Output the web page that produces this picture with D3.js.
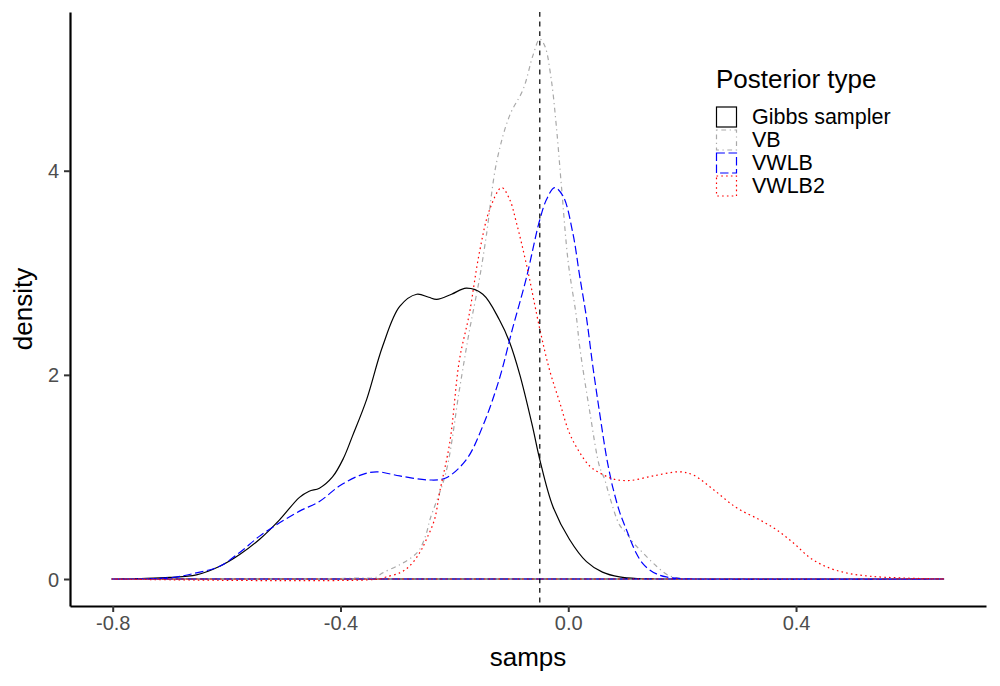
<!DOCTYPE html>
<html>
<head>
<meta charset="utf-8">
<script src="https://cdn.jsdelivr.net/npm/d3@7"></script>
<style>
  body { margin: 0; background: #fff; }
  text { font-family: "Liberation Sans", Arial, Helvetica, sans-serif; }
</style>
</head>
<body>
<svg id="chart" width="1000" height="686"></svg>
<script>
// density curves, [samps, density]
const gibbs = [
  [-0.802, 0], [-0.75, 0.005], [-0.70, 0.015], [-0.653, 0.04], [-0.612, 0.125],
  [-0.577, 0.24], [-0.542, 0.39], [-0.507, 0.58], [-0.472, 0.80], [-0.455, 0.86],
  [-0.437, 0.89], [-0.414, 1.00], [-0.395, 1.18], [-0.379, 1.40], [-0.354, 1.76],
  [-0.326, 2.28], [-0.296, 2.67], [-0.266, 2.79], [-0.245, 2.76], [-0.231, 2.74],
  [-0.205, 2.79], [-0.179, 2.85], [-0.150, 2.79], [-0.121, 2.54], [-0.103, 2.32],
  [-0.085, 2.00], [-0.063, 1.50], [-0.050, 1.17], [-0.027, 0.71], [0.002, 0.39],
  [0.032, 0.17], [0.060, 0.067], [0.090, 0.02], [0.125, 0.003], [0.16, 0], [0.66, 0]
];
const vb = [
  [-0.802, 0], [-0.45, 0], [-0.40, 0.005], [-0.36, 0.01], [-0.34, 0.012],
  [-0.326, 0.06], [-0.296, 0.14], [-0.273, 0.22], [-0.261, 0.29], [-0.249, 0.45],
  [-0.243, 0.58], [-0.215, 1.04], [-0.191, 1.86], [-0.174, 2.42], [-0.156, 2.94],
  [-0.144, 3.36], [-0.126, 4.08], [-0.103, 4.54], [-0.079, 4.80], [-0.062, 5.13],
  [-0.050, 5.29], [-0.041, 5.22], [-0.030, 4.90], [-0.021, 4.44], [-0.012, 3.85],
  [0.000, 3.10], [0.014, 2.58], [0.020, 2.28], [0.038, 1.63], [0.055, 1.10],
  [0.064, 0.975], [0.073, 0.80], [0.090, 0.53], [0.102, 0.45], [0.115, 0.35],
  [0.131, 0.257], [0.155, 0.125], [0.178, 0.03], [0.20, 0.005], [0.22, 0], [0.66, 0]
];
const vwlb = [
  [-0.802, 0], [-0.70, 0.012], [-0.653, 0.06], [-0.612, 0.125], [-0.577, 0.26],
  [-0.542, 0.42], [-0.507, 0.55], [-0.472, 0.665], [-0.437, 0.76], [-0.402, 0.91],
  [-0.366, 1.015], [-0.337, 1.05], [-0.296, 1.01], [-0.244, 0.97], [-0.215, 0.99],
  [-0.179, 1.17], [-0.150, 1.50], [-0.121, 1.96], [-0.098, 2.45], [-0.074, 2.94],
  [-0.050, 3.52], [-0.038, 3.72], [-0.024, 3.835], [-0.009, 3.75], [0.008, 3.39],
  [0.020, 2.97], [0.032, 2.56], [0.043, 2.09], [0.055, 1.63], [0.067, 1.20],
  [0.075, 0.975], [0.079, 0.88], [0.090, 0.66], [0.102, 0.485], [0.119, 0.257],
  [0.131, 0.15], [0.142, 0.093], [0.155, 0.05], [0.172, 0.02], [0.20, 0.003],
  [0.23, 0], [0.66, 0]
];
const vwlb2 = [
  [-0.802, 0], [-0.331, 0], [-0.32, 0.02], [-0.296, 0.06], [-0.279, 0.125],
  [-0.261, 0.257], [-0.249, 0.39], [-0.235, 0.58], [-0.226, 0.845], [-0.208, 1.34],
  [-0.191, 2.15], [-0.174, 2.59], [-0.156, 3.20], [-0.138, 3.62], [-0.117, 3.835],
  [-0.103, 3.72], [-0.091, 3.49], [-0.073, 3.07], [-0.050, 2.45], [-0.033, 2.05],
  [-0.015, 1.73], [0.002, 1.43], [0.020, 1.24], [0.038, 1.105], [0.055, 1.04],
  [0.079, 0.98], [0.108, 0.965], [0.149, 1.01], [0.195, 1.05], [0.219, 1.02],
  [0.254, 0.88], [0.295, 0.70], [0.336, 0.58], [0.365, 0.485], [0.395, 0.355],
  [0.424, 0.21], [0.453, 0.12], [0.488, 0.06], [0.530, 0.027], [0.587, 0.01], [0.66, 0]
];

const seriesNames = ["Gibbs sampler", "VB", "VWLB", "VWLB2"];
const seriesColors = ["#000000", "#A9A9A9", "#0000FF", "#FF0000"];
const seriesDashes = ["none", "1.2,3.6,4.8,3.6", "8.4,3.6", "1.6,3.2"];
const refLine = -0.05;

const xTicks = [-0.8, -0.4, 0.0, 0.4];
const xTickLabels = ["-0.8", "-0.4", "0.0", "0.4"];
const yTicks = [0, 2, 4];
const yTickLabels = ["0", "2", "4"];

const svg = d3.select('#chart');
const panel = { left: 70, right: 986, top: 12, bottom: 606 };

const x = d3.scaleLinear().domain([-0.875, 0.7336]).range([panel.left, panel.right]);
const y = d3.scaleLinear().domain([-0.2645, 5.555]).range([panel.bottom, panel.top]);

// density outlines (closed down to zero like geom_density)
const area = d3.area()
  .x(d => x(d[0]))
  .y0(y(0))
  .y1(d => y(d[1]))
  .curve(d3.curveCatmullRom.alpha(0.5));

[gibbs, vb, vwlb, vwlb2].forEach((s, i) => {
  svg.append('path')
    .attr('d', area(s))
    .attr('fill', 'none')
    .attr('stroke', seriesColors[i])
    .attr('stroke-width', 1.2)
    .attr('stroke-dasharray', seriesDashes[i]);
});

// reference line
svg.append('line')
  .attr('x1', x(refLine)).attr('x2', x(refLine))
  .attr('y1', panel.top).attr('y2', panel.bottom)
  .attr('stroke', '#000')
  .attr('stroke-width', 1.2)
  .attr('stroke-dasharray', '4.8,4.8');

// axes
const xAxis = svg.append('g')
  .attr('transform', `translate(0,${panel.bottom})`)
  .call(d3.axisBottom(x).tickValues(xTicks).tickFormat((d, i) => xTickLabels[i])
    .tickSizeOuter(0).tickSizeInner(6).tickPadding(4));
const yAxis = svg.append('g')
  .attr('transform', `translate(${panel.left},0)`)
  .call(d3.axisLeft(y).tickValues(yTicks).tickFormat((d, i) => yTickLabels[i])
    .tickSizeOuter(0).tickSizeInner(6).tickPadding(5));

[xAxis, yAxis].forEach(g => {
  g.select('.domain').attr('stroke', '#000').attr('stroke-width', 2.2);
  g.selectAll('.tick line').attr('stroke', '#333').attr('stroke-width', 2);
  g.selectAll('.tick text')
    .attr('fill', '#4D4D4D')
    .style('font-size', '20px')
    .style('font-family', '"Liberation Sans", Arial, sans-serif');
});
yAxis.selectAll('.tick text').attr('dy', '0.35em');

// axis titles
svg.append('text')
  .attr('x', (panel.left + panel.right) / 2)
  .attr('y', 666)
  .attr('text-anchor', 'middle')
  .style('font-size', '26px')
  .text('samps');
svg.append('text')
  .attr('transform', `translate(32,${(panel.top + panel.bottom) / 2}) rotate(-90)`)
  .attr('text-anchor', 'middle')
  .style('font-size', '26px')
  .text('density');

// legend
const legend = svg.append('g').attr('transform', 'translate(716,0)');
legend.append('text')
  .attr('x', 0).attr('y', 88)
  .style('font-size', '26px')
  .text('Posterior type');

seriesNames.forEach((name, i) => {
  const cy = 117 + i * 23;
  legend.append('rect')
    .attr('x', 0.5).attr('y', cy - 10)
    .attr('width', 20).attr('height', 20)
    .attr('fill', 'none')
    .attr('stroke', seriesColors[i])
    .attr('stroke-width', 1.2)
    .attr('stroke-dasharray', seriesDashes[i]);
  legend.append('text')
    .attr('x', 36).attr('y', cy + 7)
    .style('font-size', '21.5px')
    .text(name);
});
</script>
</body>
</html>
